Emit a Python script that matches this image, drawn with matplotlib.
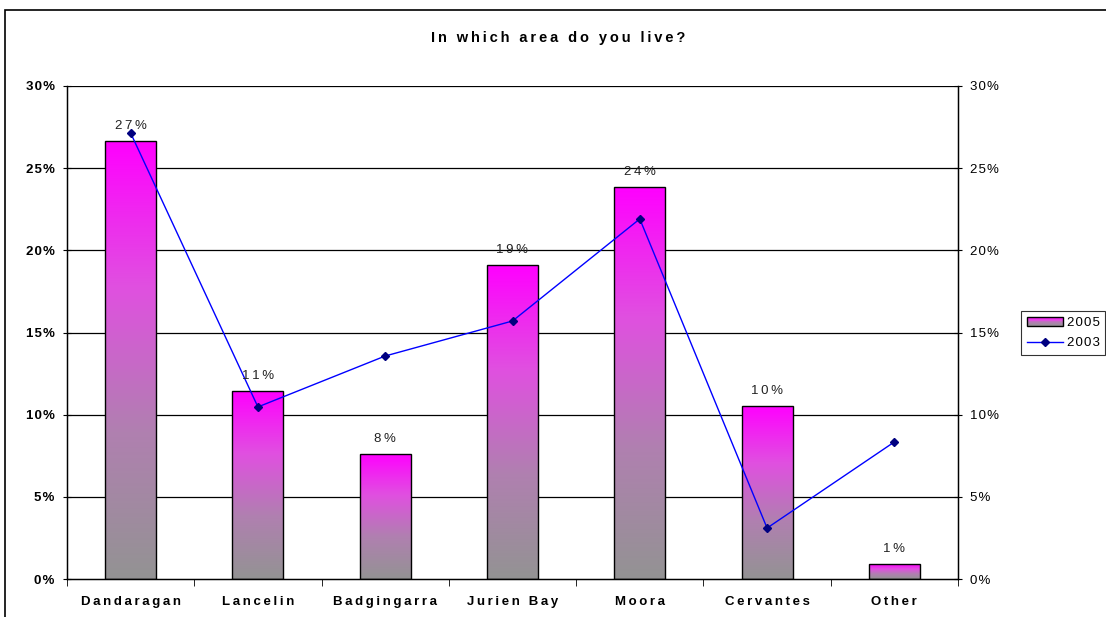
import numpy as np
import matplotlib
matplotlib.use("Agg")
import matplotlib.pyplot as plt
from matplotlib.patches import Rectangle
from matplotlib.legend_handler import HandlerBase
from matplotlib.lines import Line2D
from matplotlib.colors import LinearSegmentedColormap

plt.rcParams['font.family'] = ['Liberation Sans', 'DejaVu Sans']

categories = ["Dandaragan", "Lancelin", "Badgingarra", "Jurien Bay", "Moora", "Cervantes", "Other"]
values_2005 = [26.66, 11.44, 7.61, 19.11, 23.86, 10.53, 0.91]
values_2003 = [27.14, 10.47, 13.57, 15.70, 21.91, 3.10, 8.34]
bar_labels = ["27%", "11%", "8%", "19%", "24%", "10%", "1%"]
yticks = [0, 5, 10, 15, 20, 25, 30]
title = "In which area do you live?"
series_names = ["2005", "2003"]

TS = "\u2009"  # thin space to mimic wide letter spacing
HS = "\u200a"  # hair space


def spaced(s, sep=TS):
    return sep.join(s)


top_col = "#FF00FF"
bot_col = "#939393"
cmap = LinearSegmentedColormap.from_list("g", [bot_col, "#B080B0", "#E050E0", top_col])

W, H = 1106, 617
fig = plt.figure(figsize=(W / 100, H / 100), dpi=100)
ax = fig.add_axes([67 / W, 1 - 579 / H, (958 - 67) / W, (579 - 86) / H])

# frame around chart
fig.patches.append(Rectangle((5 / W, -0.1), 1.2, 1 - 10 / H + 0.1, transform=fig.transFigure,
                             fill=False, edgecolor="black", linewidth=1.2, zorder=0))

x = np.arange(len(categories))
bw = 0.4
bars = ax.bar(x, values_2005, width=bw, color="none", edgecolor="black", linewidth=1.0, zorder=3)
grad = np.linspace(0, 1, 256).reshape(-1, 1)
for b in bars:
    x0, w, h = b.get_x(), b.get_width(), b.get_height()
    im = ax.imshow(grad, cmap=cmap, origin="lower", extent=[x0, x0 + w, 0, h],
                   aspect="auto", zorder=2, interpolation="bilinear")
    im.set_clip_path(b)

for xi, v, lab in zip(x, values_2005, bar_labels):
    ax.text(xi, v + 0.55, spaced(lab), ha="center", va="bottom", fontsize=9.5,
            color="#222222", zorder=5)

ax.plot(x, values_2003, color="#0000FF", linewidth=1.0, marker="D", markersize=4.5,
        markerfacecolor="#000080", markeredgecolor="#000080", zorder=4)

ax.set_xlim(-0.5, len(categories) - 0.5)
ax.set_ylim(0, 30)
ax.set_yticks(yticks)
ax.set_yticklabels([spaced(f"{t}%", HS) for t in yticks], fontsize=9.5, fontweight="bold")
for t in yticks[1:]:
    ax.axhline(t, color="black", linewidth=0.9, zorder=1)

ax.set_xticks(x)
ax.set_xticklabels([spaced(c) for c in categories], fontsize=9.5, fontweight="bold")
ax.tick_params(axis="x", which="major", length=0, pad=12)
ax.set_xticks(np.arange(-0.5, len(categories), 1.0), minor=True)
ax.tick_params(axis="x", which="minor", length=5, direction="out", color="black")
ax.tick_params(axis="y", length=6, direction="inout", color="black", pad=6)

ax.spines["top"].set_visible(False)
for s in ["left", "right", "bottom"]:
    ax.spines[s].set_color("black")
    ax.spines[s].set_linewidth(1.0)

ax2 = ax.twinx()
ax2.set_ylim(0, 30)
ax2.set_yticks(yticks)
ax2.set_yticklabels([spaced(f"{t}%", HS) for t in yticks], fontsize=9.5)
ax2.tick_params(axis="y", length=6, direction="inout", color="black", pad=6)
ax2.spines["top"].set_visible(False)

fig.text(558 / W, 1 - 38 / H, spaced(title), ha="center", va="center",
         fontsize=10.5, fontweight="bold")


class GradHandler(HandlerBase):
    def create_artists(self, legend, orig_handle, xdescent, ydescent, width, height, fontsize, trans):
        arts = []
        n = 10
        for i in range(n):
            c = cmap((i + 0.5) / n)
            r = Rectangle((-xdescent, -ydescent + height * i / n), width, height / n,
                          facecolor=c, edgecolor="none", transform=trans)
            arts.append(r)
        arts.append(Rectangle((-xdescent, -ydescent), width, height, facecolor="none",
                              edgecolor="black", linewidth=1.0, transform=trans))
        return arts


handle_bar = Rectangle((0, 0), 1, 1)
handle_line = Line2D([], [], color="#0000FF", linewidth=1.0, marker="D", markersize=4.5,
                     markerfacecolor="#000080", markeredgecolor="#000080")
leg = fig.legend([handle_bar, handle_line], [spaced(n, HS) for n in series_names],
                 handler_map={Rectangle: GradHandler()},
                 loc="center left", bbox_to_anchor=(1021 / W, 1 - 333 / H),
                 fontsize=9.5, frameon=True, fancybox=False, edgecolor="black",
                 handlelength=2.7, handletextpad=0.3, borderpad=0.45, labelspacing=0.6,
                 borderaxespad=0)
leg.get_frame().set_linewidth(0.8)

fig.savefig("out.png", dpi=100)
